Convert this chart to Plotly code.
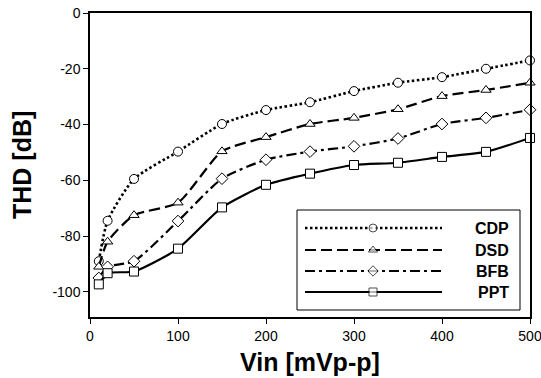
import plotly.graph_objects as go

vin = [10, 20, 50, 100, 150, 200, 250, 300, 350, 400, 450, 500]
cdp = [-89, -74.5, -59.5, -49.7, -39.8, -34.8, -32, -28, -25, -23, -20, -17]
dsd = [-91, -82, -72.5, -68, -49.6, -44.5, -39.8, -37.6, -34.5, -29.8, -27.6, -25]
bfb = [-95, -91, -89, -74.6, -59.4, -52.6, -49.7, -47.8, -45, -39.8, -37.6, -34.7]
ppt = [-97.3, -93.3, -92.7, -84.5, -69.7, -61.6, -57.6, -54.5, -53.7, -51.6, -49.8, -44.8]

x_ticks = [0, 100, 200, 300, 400, 500]
y_ticks = [0, -20, -40, -60, -80, -100]
y_ticktext = ["0", "-20", "-40", "-60", "-80", "-100"]

series = [
    ("CDP", cdp, "2.5px,2.5px", "circle", 2.6),
    ("DSD", dsd, "11px,5px", "triangle-up", 2.2),
    ("BFB", bfb, "10px,4px,3px,4px", "diamond", 2.2),
    ("PPT", ppt, "solid", "square", 2.2),
]

FONT = "Liberation Sans, Arial"
W, H = 541, 378
L, R, T, B = 90, 530, 13, 317

def px(x):
    return (x - L) / (R - L)

def py(y):
    return (B - y) / (B - T)

fig = go.Figure()
for name, ys, dash, sym, lw in series:
    fig.add_trace(go.Scatter(
        x=vin, y=ys, name=name, mode="lines+markers",
        line=dict(color="black", width=lw, dash=dash, shape="spline", smoothing=0.6),
        marker=dict(symbol=sym, size=9, color="white", line=dict(color="black", width=1)),
        cliponaxis=False, showlegend=False,
    ))

# custom legend drawn on an overlay axis in pixel-like units
rows = [228, 250, 271, 292]
for (name, ys, dash, sym, lw), yy in zip(series, rows):
    fig.add_trace(go.Scatter(
        x=[305, 373, 442], y=[yy, yy, yy], mode="lines+markers",
        xaxis="x2", yaxis="y2", showlegend=False, hoverinfo="skip",
        line=dict(color="black", width=lw, dash=dash),
        marker=dict(symbol=sym, size=[0, 8, 0], color="white", line=dict(color="black", width=[0, 1, 0])),
    ))
    fig.add_annotation(x=px(511), y=py(yy), xref="paper", yref="paper", text="<b>%s</b>" % name,
                       showarrow=False, xanchor="right", yanchor="middle",
                       font=dict(family=FONT, size=16, color="black"))
fig.add_shape(type="rect", x0=297, x1=520, y0=210, y1=310, xref="x2", yref="y2",
              line=dict(color="black", width=1), fillcolor="rgba(0,0,0,0)")

# axis titles
fig.add_annotation(x=px(310), y=py(362), xref="paper", yref="paper", text="<b>Vin [mVp-p]</b>",
                   showarrow=False, xanchor="center", yanchor="middle",
                   font=dict(family=FONT, size=25, color="black"))
fig.add_annotation(x=px(22), y=py(165), xref="paper", yref="paper", text="<b>THD [dB]</b>",
                   showarrow=False, xanchor="center", yanchor="middle", textangle=-90,
                   font=dict(family=FONT, size=25, color="black"))

fig.update_layout(
    width=W, height=H,
    margin=dict(l=L, r=W - R, t=T, b=H - B, autoexpand=False),
    paper_bgcolor="white", plot_bgcolor="white",
    font=dict(family=FONT, size=14, color="black"),
    xaxis=dict(range=[0, 500], tickvals=x_ticks, automargin=False, ticklabeloverflow="allow",
               showgrid=False, zeroline=False, showline=True, linecolor="black", linewidth=1.5,
               mirror=True, ticks="outside", ticklen=5, tickcolor="black", tickwidth=1,
               tickfont=dict(size=14)),
    yaxis=dict(range=[-109, 0], tickvals=y_ticks, ticktext=y_ticktext, automargin=False,
               ticklabeloverflow="allow",
               showgrid=False, zeroline=False, showline=True, linecolor="black", linewidth=1.5,
               mirror=True, ticks="outside", ticklen=5, tickcolor="black", tickwidth=1,
               tickfont=dict(size=14)),
    xaxis2=dict(range=[L, R], domain=[0, 1], overlaying="x", visible=False, fixedrange=True),
    yaxis2=dict(range=[B, T], domain=[0, 1], overlaying="y", visible=False, fixedrange=True),
)

fig.write_html("out.html", config={"displayModeBar": False},
               post_script="document.body.style.margin='0';document.body.style.overflow='hidden';")
